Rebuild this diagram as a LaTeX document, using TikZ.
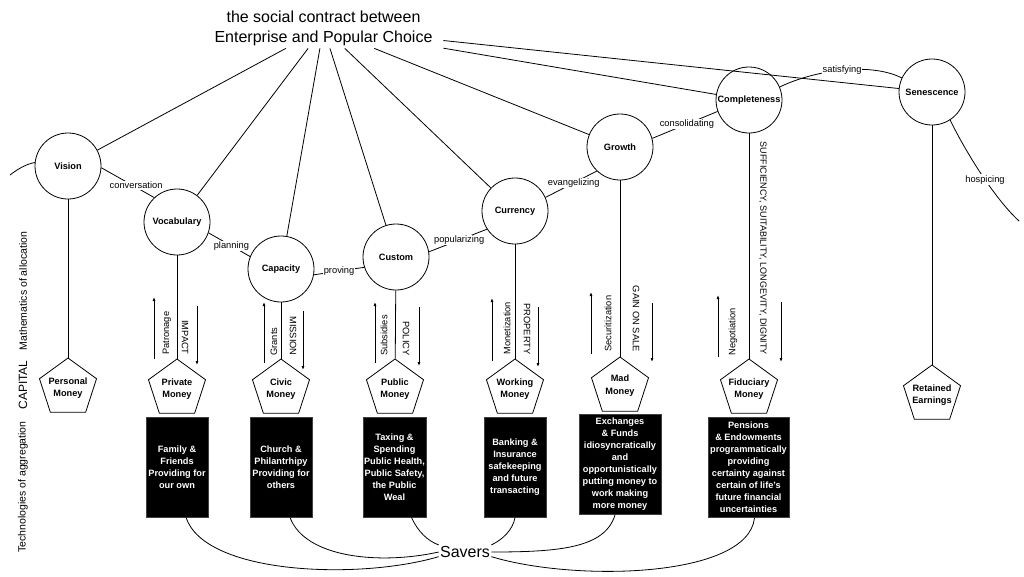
\documentclass[tikz,border=0pt]{standalone}
\usepackage{fontspec}
\setmainfont{Liberation Sans}
\usetikzlibrary{shapes.geometric,arrows.meta}
\begin{document}
\begin{tikzpicture}[x=1pt,y=-1pt,line width=0.8pt,
  circ/.style={circle,draw,minimum size=66pt,inner sep=0pt,font=\fontsize{9.2}{11}\selectfont\bfseries},
  pent/.style={regular polygon,regular polygon sides=5,draw,minimum size=60pt,inner sep=0pt},
  pentlab/.style={align=center,font=\fontsize{9.2}{12.5}\selectfont\bfseries,inner sep=0pt},
  blackbox/.style={fill=black,draw=black!75,text=white,align=center,inner sep=0pt,minimum height=100pt,font=\fontsize{9.2}{12}\selectfont\bfseries},
  elab/.style={fill=white,inner sep=1pt,font=\fontsize{9.3}{11}\selectfont},
  vlab/.style={inner sep=0pt,font=\fontsize{9.3}{11}\selectfont},
  sidelab/.style={inner sep=0pt,rotate=90,font=\fontsize{10.5}{12}\selectfont},
  arr/.style={-{Latex[length=4pt,width=3pt]}},
]
\useasboundingbox (0,0) rectangle (1024,576);

% title
\node[align=center,minimum width=239pt,minimum height=40pt,inner sep=0pt,
      font=\fontsize{16}{20}\selectfont] (title) at (323.5,28)
      {the social contract between\\Enterprise and Popular Choice};

% circles
\node[circ] (vision)   at (68,166)  {Vision};
\node[circ] (vocab)    at (177,222) {Vocabulary};
\node[circ] (capacity) at (281,269) {Capacity};
\node[circ] (custom)   at (396,257) {Custom};
\node[circ] (currency) at (515,211) {Currency};
\node[circ] (growth)   at (620,147) {Growth};
\node[circ] (complete) at (749,100) {Completeness};
\node[circ] (senesc)   at (932,92)  {Senescence};

% pentagons
\node[pent] (pm)   at (68,388)  {};
\node[pent] (prm)  at (177,389) {};
\node[pent] (cm)   at (281,389) {};
\node[pent] (pubm) at (395,389) {};
\node[pent] (wm)   at (515,389) {};
\node[pent] (mm)   at (620,387) {};
\node[pent] (fm)   at (749,389) {};
\node[pent] (re)   at (932,395) {};
\node[pentlab] (pmT)   at (pm)   {Personal\\Money};
\node[pentlab] (prmT)  at (prm)  {Private\\Money};
\node[pentlab] (cmT)   at (cm)   {Civic\\Money};
\node[pentlab] (pubmT) at (pubm) {Public\\Money};
\node[pentlab] (wmT)   at (wm)   {Working\\Money};
\node[pentlab] (mmT)   at ([yshift=1.5pt]mm) {Mad\\Money};
\node[pentlab] (fmT)   at (fm)   {Fiduciary\\Money};
\node[pentlab] (reT)   at (re)   {Retained\\Earnings};

% black boxes
\node[blackbox,minimum width=62pt] (fam)    at (177,467)   {Family \&\\Friends\\Providing for\\our own};
\node[blackbox,minimum width=62pt] (church) at (281,467)   {Church \&\\Philantrhipy\\Providing for\\others};
\node[blackbox,minimum width=63pt] (tax)    at (394.5,467) {Taxing \&\\Spending\\Public Health,\\Public Safety,\\the Public\\Weal};
\node[blackbox,minimum width=62pt] (bank)   at (515,467)   {Banking \&\\Insurance\\safekeeping\\and future\\transacting};
\node[blackbox,minimum width=82pt] (exch)   at (620,464.5) {Exchanges\\\& Funds\\idiosyncratically\\and\\opportunistically\\putting money to\\work making\\more money};
\node[blackbox,minimum width=81pt] (pens)   at (748.5,467.5) {Pensions\\\& Endowments\\programmatically\\providing\\certainty against\\certain of life's\\future financial\\uncertainties};

\node[font=\fontsize{16}{19}\selectfont,inner sep=1pt] (savers) at (465,552) {Savers};

% side labels
\node[sidelab] (lmath) at (23,291) {Mathematics of allocation};
\node[sidelab,font=\fontsize{12}{14}\selectfont] (lcap) at (23,385) {CAPITAL};
\node[sidelab] (ltech) at (23,487) {Technologies of aggregation};

% title connectors
\foreach \n in {vision,vocab,capacity,custom,currency,growth,complete,senesc}
  \draw (title) -- (\n);

% circle to pentagon
\draw (vision) -- (pm);
\draw (vocab) -- (prm);
\draw (capacity) -- (cm);
\draw (custom) -- (pubm);
\draw (currency) -- (wm);
\draw (growth) -- (mm);
\draw (complete) -- (fm);
\draw (senesc) -- (re);

% labelled connectors between circles
\coordinate (vleft) at (10,175);
\draw (vleft) .. controls (19,168) and (27,164) .. (vision.174);
\draw (vision.-3) -- node[elab,pos=0.6,xshift=3pt] {conversation} (vocab.133);
\draw (vocab.-19) -- node[elab,pos=0.55] {planning} (capacity.158);
\draw (capacity.-10) -- node[elab,pos=0.5] {proving} (custom.198);
\draw (custom.9) -- node[elab,pos=0.52] {popularizing} (currency.213);
\draw (currency.24) -- node[elab,pos=0.55] {evangelizing} (growth.226);
\draw (growth.15) -- node[elab,pos=0.53] {consolidating} (complete.200);
\draw (complete.23) .. controls (815,70) and (870,62) .. node[elab,pos=0.5] {satisfying} (senesc.155);
\coordinate (hend) at (1019,221);
\draw (senesc.-57) .. controls (962,145) and (992,196) .. node[elab,pos=0.58] {hospicing} (hend);

% arrows and labels
% Private
\draw[arr] (154,359) -- (154,297);
\draw[arr] (197,306) -- (197,365);
\node[vlab,rotate=90,anchor=west] (l1) at (167,355) {Patronage};
\node[vlab,rotate=-90,anchor=east] (l2) at (185,355) {IMPACT};
% Civic
\draw[arr] (264,363) -- (264,302);
\draw[arr] (303,311) -- (303,370);
\node[vlab,rotate=90,anchor=west] (l3) at (274,356) {Grants};
\node[vlab,rotate=-90,anchor=east] (l4) at (293,356) {MISSION};
% Public
\draw[arr] (375,363) -- (375,302);
\draw[arr] (419,307) -- (419,366);
\node[vlab,rotate=90,anchor=west] (l5) at (384,356) {Subsidies};
\node[vlab,rotate=-90,anchor=east] (l6) at (406,356) {POLICY};
% Working
\draw[arr] (492,361) -- (492,298);
\draw[arr] (538,307) -- (538,367);
\node[vlab,rotate=90,anchor=west] (l7) at (507,355) {Monetization};
\node[vlab,rotate=-90,anchor=east] (l8) at (527,355) {PROPERTY};
% Mad
\draw[arr] (591,354) -- (591,292);
\draw[arr] (652,303) -- (652,362);
\node[vlab,rotate=90,anchor=west] (l9) at (608,352) {Securitization};
\node[vlab,rotate=-90,anchor=east] (l10) at (636,352) {GAIN ON SALE};
% Fiduciary
\draw[arr] (718,357) -- (718,295);
\draw[arr] (781,302) -- (781,362);
\node[vlab,rotate=90,anchor=west] (l11) at (733,356) {Negotiation};
\node[vlab,rotate=-90,anchor=east,font=\fontsize{9}{11}\selectfont] (l12) at (763,355) {SUFFICIENCY, SUITABILITY, LONGEVITY, DIGNITY};

% savers curves
\draw ([xshift=9pt]fam.south) .. controls (205,575) and (360,580) .. (savers.190);
\draw ([xshift=9pt]church.south) .. controls (305,558) and (380,565) .. (savers.180);
\draw ([xshift=17pt]tax.south) .. controls (418,532) and (428,541) .. (savers.north west);
\draw (bank.south) .. controls (513,530) and (502,540) .. (savers.north east);
\draw ([xshift=-5pt]exch.south) .. controls (605,548) and (560,552) .. (savers.0);
\draw ([xshift=6pt]pens.south) .. controls (748,578) and (575,582) .. (savers.-10);
\end{tikzpicture}
\end{document}
